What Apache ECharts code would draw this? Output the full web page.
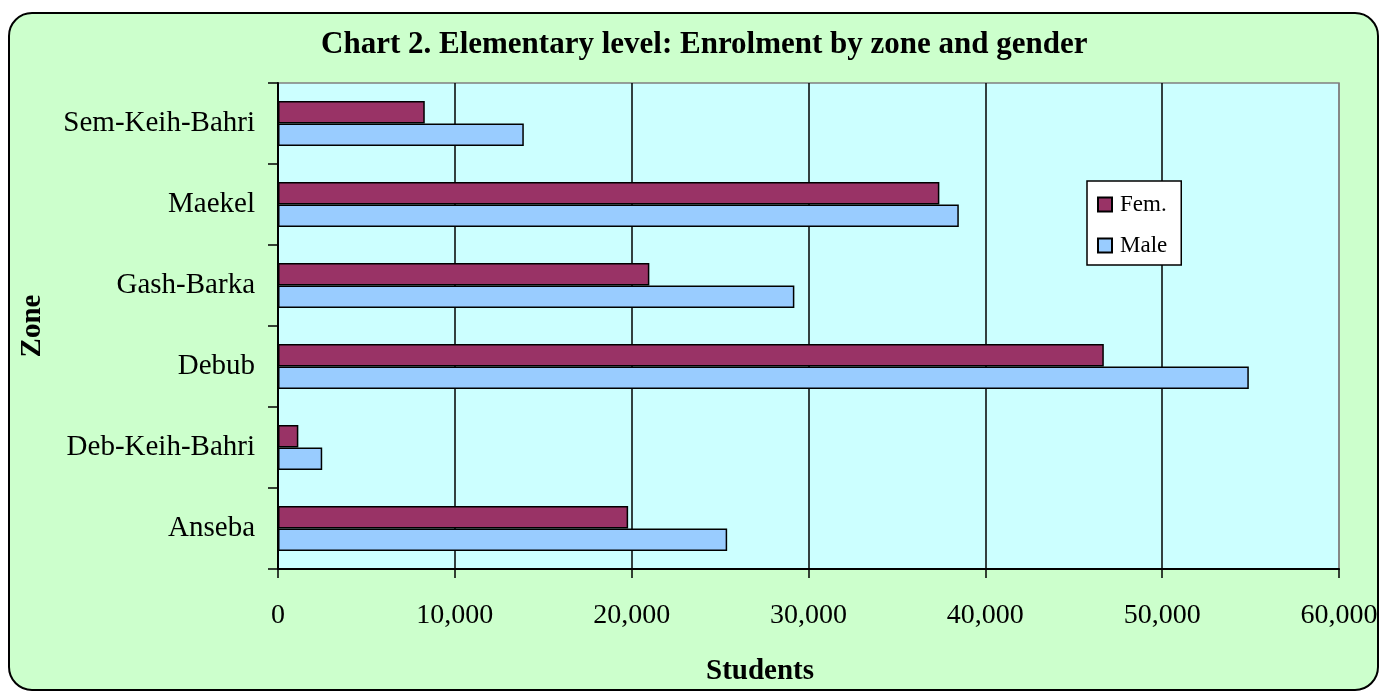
<!DOCTYPE html>
<html>
<head>
<meta charset="utf-8">
<script src="https://cdn.jsdelivr.net/npm/echarts@6/dist/echarts.min.js"></script>
<style>
  html, body { margin: 0; padding: 0; background: #ffffff; width: 1381px; height: 691px; overflow: hidden; }
  #frame { position: absolute; left: 8px; top: 12px; width: 1371px; height: 679px; box-sizing: border-box;
           border: 2px solid #000; border-radius: 24px; background: #CCFFCC; }
  #chart { position: absolute; left: 0; top: 0; width: 1381px; height: 691px; }
</style>
</head>
<body>
<div id="frame"></div>
<div id="chart"></div>
<script>
const categories = ['Anseba', 'Deb-Keih-Bahri', 'Debub', 'Gash-Barka', 'Maekel', 'Sem-Keih-Bahri'];
const femValues  = [19800, 1150, 46700, 21000, 37400, 8300];
const maleValues = [25400, 2500, 54900, 29200, 38500, 13900];
const xTickLabels = ['0', '10,000', '20,000', '30,000', '40,000', '50,000', '60,000'];
const seriesNames = ['Fem.', 'Male'];

const FONT = "'Liberation Serif', 'Times New Roman', serif";
const chart = echarts.init(document.getElementById('chart'), null, { renderer: 'canvas' });
chart.setOption({
  backgroundColor: 'transparent',
  animation: false,
  title: {
    text: 'Chart 2. Elementary level: Enrolment by zone and gender',
    left: 321, top: 29, padding: 0,
    textStyle: { fontFamily: FONT, fontSize: 31, fontWeight: 'bold', color: '#000' }
  },
  legend: {
    data: seriesNames,
    orient: 'vertical',
    left: 1087, top: 181,
    padding: [12, 14, 8, 10],
    itemGap: 18, itemWidth: 14, itemHeight: 14,
    icon: 'rect',
    backgroundColor: '#ffffff', borderColor: '#000', borderWidth: 1.5,
    textStyle: { fontFamily: FONT, fontSize: 23, color: '#000', padding: [0, 0, 0, 3] }
  },
  grid: {
    left: 278, top: 83, width: 1061, height: 486,
    show: true, backgroundColor: '#CCFFFF', borderColor: '#808080', borderWidth: 1.5,
    containLabel: false, outerBoundsMode: 'none'
  },
  xAxis: {
    type: 'value', min: 0, max: 60000, interval: 10000,
    name: 'Students', nameLocation: 'middle', nameGap: 88,
    nameTextStyle: { fontFamily: FONT, fontSize: 29, fontWeight: 'bold', color: '#000', padding: [0, 97, 0, 0] },
    axisLine: { show: true, lineStyle: { color: '#000', width: 2 } },
    axisTick: { show: true, inside: false, length: 9, lineStyle: { color: '#000', width: 1.5 } },
    axisLabel: { show: true, margin: 33, fontFamily: FONT, fontSize: 28, color: '#000',
                 formatter: function (v) { return xTickLabels[Math.round(v / 10000)]; } },
    splitLine: { show: true, lineStyle: { color: ['#000', '#000', '#000', '#000', '#000', '#000', '#808080'], width: 1.5 } }
  },
  yAxis: {
    type: 'category', data: categories,
    name: 'Zone', nameLocation: 'middle', nameGap: 231,
    nameTextStyle: { fontFamily: FONT, fontSize: 29, fontWeight: 'bold', color: '#000' },
    axisLine: { show: true, lineStyle: { color: '#000', width: 2 } },
    axisTick: { show: true, inside: false, length: 10, alignWithLabel: false, lineStyle: { color: '#000', width: 1.5 } },
    axisLabel: { margin: 23, fontFamily: FONT, fontSize: 29, color: '#000' },
    splitLine: { show: false }
  },
  series: [
    {
      name: seriesNames[0], type: 'bar', data: femValues,
      barWidth: 22.5, barGap: '0%',
      itemStyle: { color: '#993366', borderColor: '#000', borderWidth: 1.5 }
    },
    {
      name: seriesNames[1], type: 'bar', data: maleValues,
      barWidth: 22.5, barGap: '0%',
      itemStyle: { color: '#99CCFF', borderColor: '#000', borderWidth: 1.5 }
    }
  ]
});
</script>
</body>
</html>
